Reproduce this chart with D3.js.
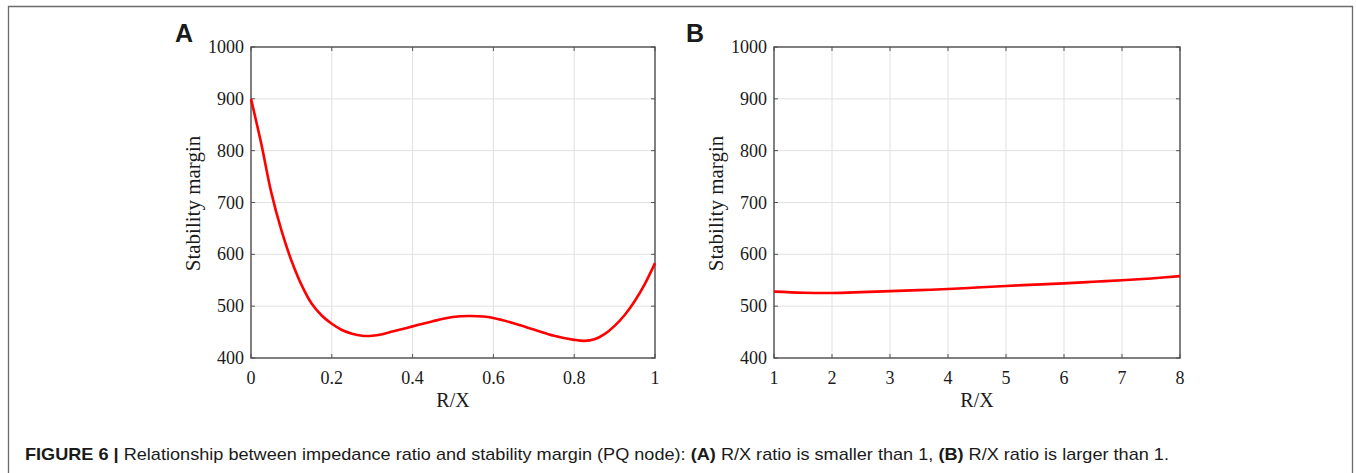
<!DOCTYPE html>
<html lang="en">
<head>
    <meta charset="UTF-8">
    <title>Stability margin vs R/X</title>
    <style>
        body {
            margin: 0;
            background: #fff;
        }
        svg text {
            fill: #1a1a1a;
        }
    </style>
</head>
<body>
    <div id="chart"></div>

    <script src="https://d3js.org/d3.v7.min.js"></script>
    <script>
        // Panel A: R/X < 1
        const rxA = [0, 0.025, 0.05, 0.075, 0.1, 0.125, 0.15, 0.175, 0.2, 0.225, 0.25, 0.275, 0.3,
                     0.325, 0.35, 0.375, 0.4, 0.45, 0.5, 0.54, 0.575, 0.6, 0.65, 0.7, 0.75, 0.8,
                     0.825, 0.85, 0.875, 0.9, 0.925, 0.95, 0.975, 1.0];
        const marginA = [900, 815, 720, 647, 588, 541, 505, 482, 466, 454, 447, 443, 443,
                         446, 451, 456, 461, 471, 479, 481, 480, 477, 467, 455, 443, 435,
                         433, 436, 446, 462, 483, 510, 543, 583];

        // Panel B: R/X > 1
        const rxB = [1, 1.5, 2, 2.5, 3, 3.5, 4, 4.5, 5, 5.5, 6, 6.5, 7, 7.5, 8];
        const marginB = [528, 526, 525.5, 527, 529, 531, 533, 536, 539, 541.5, 544, 547, 550, 553.5, 558];

        const yTicks = [400, 500, 600, 700, 800, 900, 1000];
        const xTicksA = [0, 0.2, 0.4, 0.6, 0.8, 1];
        const xTicksB = [1, 2, 3, 4, 5, 6, 7, 8];

        const W = 1356, H = 473;
        const svg = d3.select("#chart").append("svg")
            .attr("width", W)
            .attr("height", H);

        // outer figure frame (open at the bottom)
        svg.append("path")
            .attr("d", "M8.5,473 V6.5 H1352.5 V473")
            .attr("fill", "none")
            .attr("stroke", "#6b6b6b")
            .attr("stroke-width", 1.3);

        const serif = "'Liberation Serif', 'Times New Roman', serif";

        function drawPanel(opt) {
            const x = d3.scaleLinear().domain(opt.xDomain).range([opt.left, opt.right]);
            const y = d3.scaleLinear().domain([400, 1000]).range([opt.bottom, opt.top]);
            const g = svg.append("g");

            // grid
            g.selectAll(".vgrid").data(opt.xTicks.slice(1, -1)).enter().append("line")
                .attr("x1", d => x(d)).attr("x2", d => x(d))
                .attr("y1", opt.top).attr("y2", opt.bottom)
                .attr("stroke", "#e1e1e1").attr("stroke-width", 1);
            g.selectAll(".hgrid").data(yTicks.slice(1, -1)).enter().append("line")
                .attr("x1", opt.left).attr("x2", opt.right)
                .attr("y1", d => y(d)).attr("y2", d => y(d))
                .attr("stroke", "#e1e1e1").attr("stroke-width", 1);

            // inward ticks on all four sides
            const tl = 4;
            opt.xTicks.forEach(t => {
                g.append("line").attr("x1", x(t)).attr("x2", x(t))
                    .attr("y1", opt.bottom).attr("y2", opt.bottom - tl)
                    .attr("stroke", "#555").attr("stroke-width", 1);
                g.append("line").attr("x1", x(t)).attr("x2", x(t))
                    .attr("y1", opt.top).attr("y2", opt.top + tl)
                    .attr("stroke", "#555").attr("stroke-width", 1);
            });
            yTicks.forEach(t => {
                g.append("line").attr("x1", opt.left).attr("x2", opt.left + tl)
                    .attr("y1", y(t)).attr("y2", y(t))
                    .attr("stroke", "#555").attr("stroke-width", 1);
                g.append("line").attr("x1", opt.right).attr("x2", opt.right - tl)
                    .attr("y1", y(t)).attr("y2", y(t))
                    .attr("stroke", "#555").attr("stroke-width", 1);
            });

            // box
            g.append("rect")
                .attr("x", opt.left).attr("y", opt.top)
                .attr("width", opt.right - opt.left).attr("height", opt.bottom - opt.top)
                .attr("fill", "none").attr("stroke", "#4a4a4a").attr("stroke-width", 1.4);

            // tick labels
            g.selectAll(".xl").data(opt.xTicks).enter().append("text")
                .attr("x", d => x(d)).attr("y", opt.bottom + 26)
                .attr("text-anchor", "middle")
                .style("font-family", serif).style("font-size", "18px")
                .text(d => d3.format("~g")(d));
            g.selectAll(".yl").data(yTicks).enter().append("text")
                .attr("x", opt.left - 7).attr("y", d => y(d) + 6)
                .attr("text-anchor", "end")
                .style("font-family", serif).style("font-size", "18px")
                .text(d => d);

            // axis titles
            g.append("text")
                .attr("x", (opt.left + opt.right) / 2).attr("y", opt.bottom + 49)
                .attr("text-anchor", "middle")
                .style("font-family", serif).style("font-size", "20px")
                .text("R/X");
            g.append("text")
                .attr("transform", `translate(${opt.left - 51},${(opt.top + opt.bottom) / 2 + 1}) rotate(-90)`)
                .attr("text-anchor", "middle")
                .style("font-family", serif).style("font-size", "21px")
                .text("Stability margin");

            // panel letter
            g.append("text")
                .attr("x", opt.letterX).attr("y", 42)
                .style("font-family", "'Liberation Sans', Arial, sans-serif")
                .style("font-size", "25px").style("font-weight", "bold")
                .text(opt.letter);

            // curve
            const line = d3.line()
                .x(d => x(d[0])).y(d => y(d[1]))
                .curve(d3.curveCatmullRom.alpha(0.5));
            g.append("path")
                .datum(opt.xs.map((v, i) => [v, opt.ys[i]]))
                .attr("d", line)
                .attr("fill", "none")
                .attr("stroke", "#ff0000")
                .attr("stroke-width", 2.6)
                .attr("stroke-linejoin", "round");
        }

        drawPanel({
            letter: "A", letterX: 175,
            left: 251, right: 655, top: 47, bottom: 358,
            xDomain: [0, 1], xTicks: xTicksA, xs: rxA, ys: marginA
        });
        drawPanel({
            letter: "B", letterX: 686,
            left: 774, right: 1180, top: 47, bottom: 358,
            xDomain: [1, 8], xTicks: xTicksB, xs: rxB, ys: marginB
        });

        // caption
        const cap = svg.append("text")
            .attr("x", 25).attr("y", 460)
            .attr("textLength", 1144)
            .attr("lengthAdjust", "spacingAndGlyphs")
            .style("font-family", "'Liberation Sans', Arial, sans-serif")
            .style("font-size", "17px");
        cap.append("tspan").style("font-weight", "bold").text("FIGURE 6 | ");
        cap.append("tspan").text("Relationship between impedance ratio and stability margin (PQ node): ");
        cap.append("tspan").style("font-weight", "bold").text("(A)");
        cap.append("tspan").text(" R/X ratio is smaller than 1, ");
        cap.append("tspan").style("font-weight", "bold").text("(B)");
        cap.append("tspan").text(" R/X ratio is larger than 1.");
    </script>
</body>
</html>
